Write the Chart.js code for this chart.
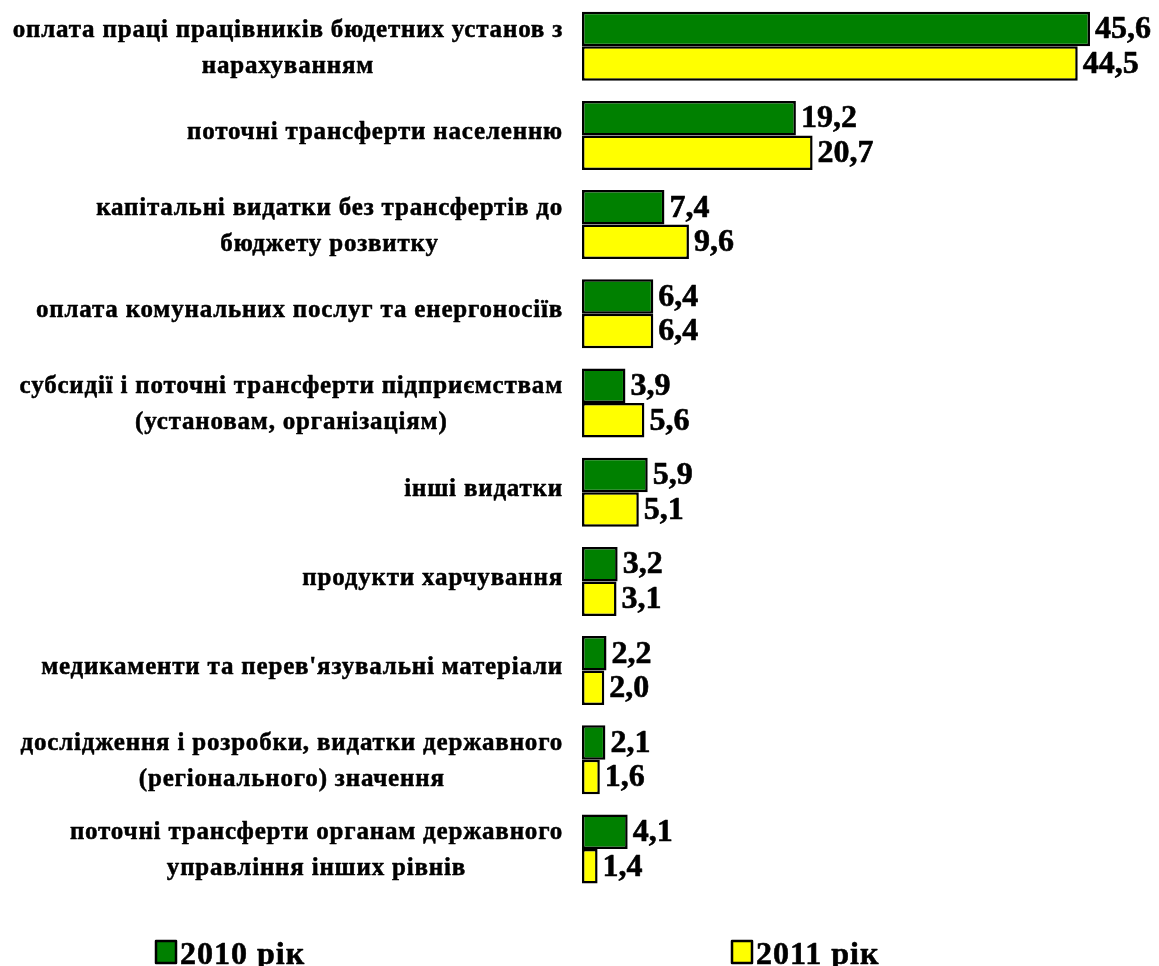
<!DOCTYPE html>
<html>
<head>
<meta charset="utf-8">
<script src="https://cdn.jsdelivr.net/npm/chart.js@4.4.1/dist/chart.umd.min.js"></script>
<style>
  html, body { margin: 0; padding: 0; background: #ffffff; }
  #wrap { position: relative; width: 1159px; height: 966px; }
</style>
</head>
<body>
<div id="wrap"><canvas id="c"></canvas></div>
<script>
const categories = [
  ["оплата праці працівників бюдетних установ з", "нарахуванням"],
  ["поточні трансферти населенню"],
  ["капітальні видатки без трансфертів до", "бюджету розвитку"],
  ["оплата комунальних послуг та енергоносіїв"],
  ["субсидії і поточні трансферти підприємствам", "(установам, організаціям)"],
  ["інші видатки"],
  ["продукти харчування"],
  ["медикаменти та перев'язувальні матеріали"],
  ["дослідження і розробки, видатки державного", "(регіонального) значення"],
  ["поточні трансферти органам державного", "управління інших рівнів"]
];
const values2010 = [45.6, 19.2, 7.4, 6.4, 3.9, 5.9, 3.2, 2.2, 2.1, 4.1];
const values2011 = [44.5, 20.7, 9.6, 6.4, 5.6, 5.1, 3.1, 2.0, 1.6, 1.4];
const seriesLabels = ["2010 рік", "2011 рік"];
const seriesColors = ["#008000", "#FFFF00"];

const FONT = '"Liberation Serif", "Times New Roman", serif';

function boldText(ctx, txt, x, y, w) {
  ctx.fillText(txt, x, y);
  ctx.lineWidth = w;
  ctx.strokeStyle = '#000';
  ctx.strokeText(txt, x, y);
}

const labelPlugin = {
  id: 'customLabels',
  afterDatasetsDraw(chart) {
    const ctx = chart.ctx;
    const yScale = chart.scales.y;
    ctx.save();
    ctx.lineJoin = 'round';
    // category labels: block right-aligned, lines centered to each other
    ctx.font = 'bold 25px ' + FONT;
    ctx.fillStyle = '#000';
    ctx.textBaseline = 'middle';
    ctx.textAlign = 'center';
    try { ctx.letterSpacing = '0.8px'; } catch (e) {}
    const rightEdge = 563;
    const lineH = 36;
    chart.data.labels.forEach((lines, i) => {
      const cy = yScale.getPixelForValue(i);
      let widest = 0;
      lines.forEach(l => { widest = Math.max(widest, ctx.measureText(l).width); });
      const cx = rightEdge - widest / 2;
      const n = lines.length;
      const off = n === 1 ? -3 : 2;
      lines.forEach((l, k) => {
        boldText(ctx, l, cx, cy + off + (k - (n - 1) / 2) * lineH, 0.5);
      });
    });
    // value labels
    ctx.font = 'bold 32px ' + FONT;
    ctx.textAlign = 'left';
    try { ctx.letterSpacing = '0px'; } catch (e) {}
    chart.data.datasets.forEach((ds, di) => {
      const meta = chart.getDatasetMeta(di);
      meta.data.forEach((bar, i) => {
        const txt = ds.data[i].toFixed(1).replace('.', ',');
        boldText(ctx, txt, bar.x + 5, bar.y + 1, 0.6);
      });
    });
    // legend
    ctx.font = 'bold 32px ' + FONT;
    ctx.textBaseline = 'alphabetic';
    try { ctx.letterSpacing = '1px'; } catch (e) {}
    const legendX = [156, 732];
    chart.data.datasets.forEach((ds, di) => {
      const x = legendX[di];
      ctx.fillStyle = ds.backgroundColor;
      ctx.fillRect(x, 941, 20, 22);
      ctx.lineWidth = 2.5;
      ctx.strokeStyle = '#000';
      ctx.strokeRect(x, 941, 20, 22);
      ctx.fillStyle = '#000';
      boldText(ctx, ds.label, x + 24, 964, 0.6);
    });
    ctx.restore();
  }
};

new Chart(document.getElementById('c'), {
  type: 'bar',
  data: {
    labels: categories,
    datasets: [
      { label: seriesLabels[0], data: values2010, backgroundColor: seriesColors[0], borderColor: '#000', borderWidth: 2.5, borderSkipped: false },
      { label: seriesLabels[1], data: values2011, backgroundColor: seriesColors[1], borderColor: '#000', borderWidth: 2.5, borderSkipped: false }
    ]
  },
  options: {
    indexAxis: 'y',
    responsive: true,
    maintainAspectRatio: false,
    devicePixelRatio: 1,
    animation: false,
    datasets: { bar: { barPercentage: 1.0, categoryPercentage: 0.773 } },
    layout: { padding: { left: 582, right: 20, top: 1.6, bottom: 72.4 } },
    scales: {
      x: { display: false, min: 0, max: 50 },
      y: { display: false }
    },
    plugins: {
      legend: { display: false },
      tooltip: { enabled: false }
    }
  },
  plugins: [labelPlugin]
});
</script>
</body>
</html>
